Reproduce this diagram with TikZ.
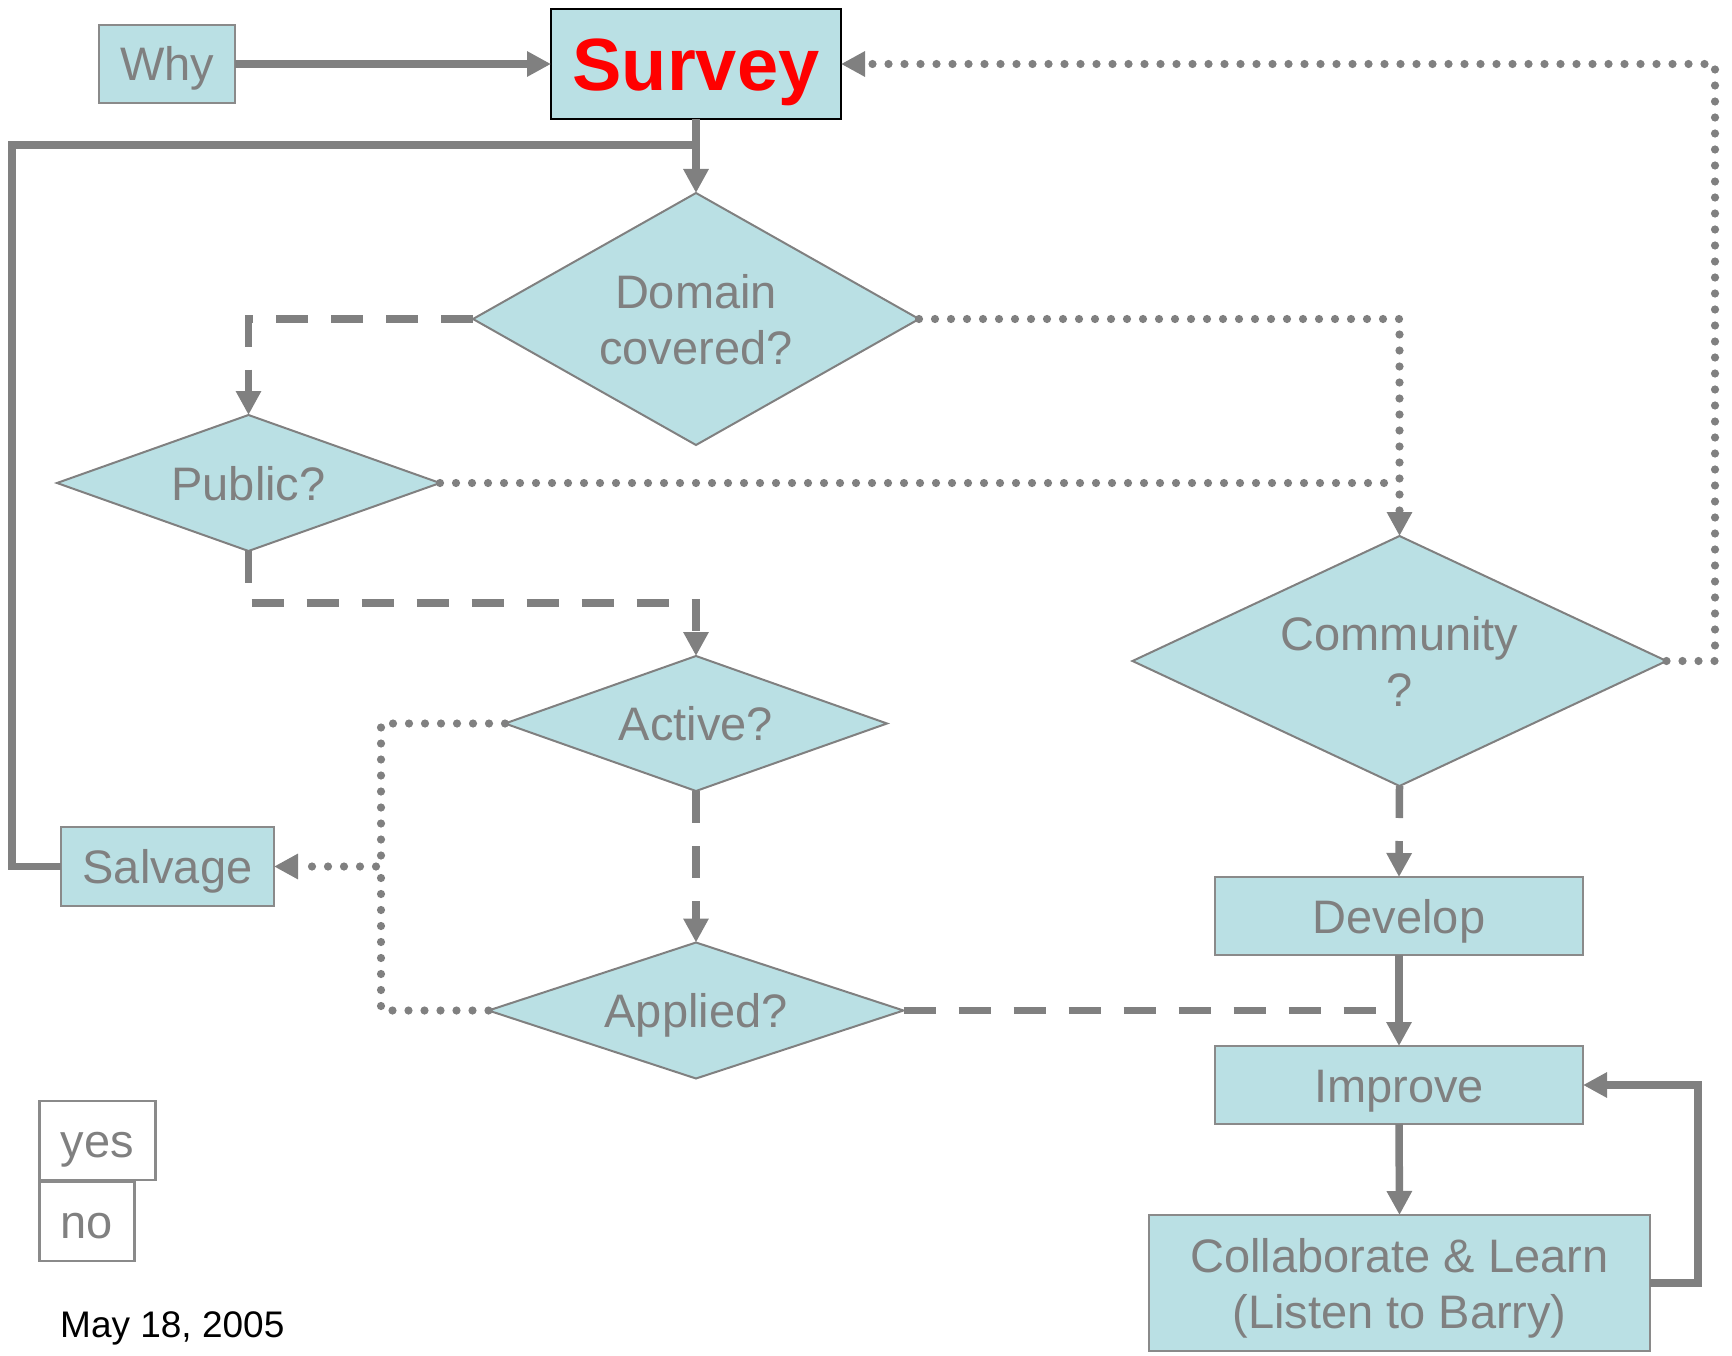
\documentclass[tikz,border=0pt]{standalone}
\usepackage{fontspec}
\setmainfont{Liberation Sans}
\usetikzlibrary{arrows.meta,shapes.geometric}

\definecolor{boxfill}{RGB}{186,224,228}
\definecolor{linegray}{RGB}{128,128,128}
\definecolor{edgegray}{RGB}{138,138,138}

\begin{document}
\begin{tikzpicture}[x=1pt,y=-1pt,
  txt/.style={font=\fontsize{47}{56}\selectfont, text=linegray},
  box/.style={rectangle, draw=edgegray, line width=2.5pt, fill=boxfill,
    inner sep=0pt, outer sep=0pt, txt, text height=34pt, text depth=0pt},
  bigbox/.style={rectangle, draw=edgegray, line width=2.5pt, fill=boxfill,
    inner sep=0pt, outer sep=0pt, txt, align=center},
  legendbox/.style={rectangle, draw=edgegray, line width=2.5pt, fill=white,
    inner sep=0pt, outer sep=0pt, txt, text height=34pt, text depth=0pt},
  decision/.style={diamond, draw=linegray, line width=2pt, fill=boxfill,
    inner sep=0pt, outer sep=0pt, txt, align=center},
  oneline/.style={text height=34pt, text depth=0pt},
  conn/.style={draw=linegray, line width=7.5pt},
  arrowed/.style={-{Triangle[length=24pt,width=24pt]}},
  yesline/.style={draw=linegray, line width=8.2pt, line cap=round,
    dash pattern=on 0pt off 16pt},
  noline/.style={draw=linegray, line width=7.5pt, dash pattern=on 32pt off 23pt},
]
\useasboundingbox (0,0) rectangle (1732,1356);

% ---- nodes ----
\node[box, minimum width=136pt, minimum height=78pt] (why) at (167,64) {Why};
\node[rectangle, draw=black, line width=2.5pt, fill=boxfill, inner sep=0pt,
      outer sep=0pt, minimum width=290pt, minimum height=110pt,
      font=\fontsize{74}{80}\selectfont\bfseries, text=red,
      text height=53pt, text depth=0pt] (survey) at (696,64) {Survey};

\node[decision, minimum width=446pt, minimum height=252pt, shape aspect=1.77,
      text depth=0pt] (domain) at (696,319) {Domain\\covered?};
\node[decision, oneline, minimum width=383pt, minimum height=136pt, shape aspect=2.8]
  (public) at (248.5,483) {Public?};
\node[decision, minimum width=534pt, minimum height=250pt, shape aspect=2.14]
  (community) at (1399.5,661) {Community\\?};
\node[decision, oneline, minimum width=382pt, minimum height=135pt, shape aspect=2.8]
  (active) at (696,723.5) {Active?};
\node[decision, oneline, minimum width=415pt, minimum height=136pt, shape aspect=3]
  (applied) at (696,1010.5) {Applied?};

\node[box, minimum width=213pt, minimum height=79pt] (salvage) at (167.5,866.5) {Salvage};
\node[box, minimum width=368pt, minimum height=78pt] (develop) at (1399,916) {Develop};
\node[box, minimum width=368pt, minimum height=78pt] (improve) at (1399,1085) {Improve};
\node[bigbox, minimum width=501pt, minimum height=136pt, text depth=0pt]
  (collab) at (1399.5,1283) {Collaborate \& Learn\\(Listen to Barry)};

\node[legendbox, minimum width=116pt, minimum height=79pt] (yes) at (97.5,1140.5) {yes};
\node[legendbox, minimum width=95pt, minimum height=79pt] (no) at (87,1221.5) {no};
\node[anchor=base west, inner sep=0pt, font=\fontsize{37}{44}\selectfont]
  (date) at (60,1337) {May 18, 2005};

% ---- bend points ----
\coordinate (loopL) at (12,145);
\coordinate (pubdrop) at (696,603);
\coordinate (salv) at (381,866.5);
\coordinate (rightT) at (1715,64);
\coordinate (collabR) at (1698,1085);

% ---- solid connectors ----
\draw[conn, arrowed] (why.east) -- (survey.west);
\draw[conn, arrowed] (survey.south) -- (domain.north);
\draw[conn] (salvage.west) -| (loopL) -- (survey.south |- loopL);
\draw[conn, arrowed] (develop.south) -- (improve.north);
\draw[conn, arrowed] (improve.south) -- (collab.north);
\draw[conn, arrowed] (collab.east) -| (collabR) -- (improve.east);

% ---- "no" branches (dashed) ----
\draw[noline, arrowed] (domain.west) -| (public.north);
\draw[noline, arrowed] (public.south) |- (pubdrop) -- (active.north);
\draw[noline, arrowed] (active.south) -- (applied.north);
\draw[noline] (applied.east) -- (applied.east -| improve.north);
\draw[noline, arrowed] (community.south) -- (develop.north);

% ---- "yes" branches (dotted) ----
\draw[yesline, arrowed] (domain.east) -| (community.north);
\draw[yesline] (public.east) -- (public.east -| community.north);
\draw[yesline, arrowed] (active.west) -| (salv) -- (salvage.east);
\draw[yesline] (applied.west) -| (salv);
\draw[yesline, arrowed] (community.east) -| (rightT) -- (survey.east);

\end{tikzpicture}
\end{document}
